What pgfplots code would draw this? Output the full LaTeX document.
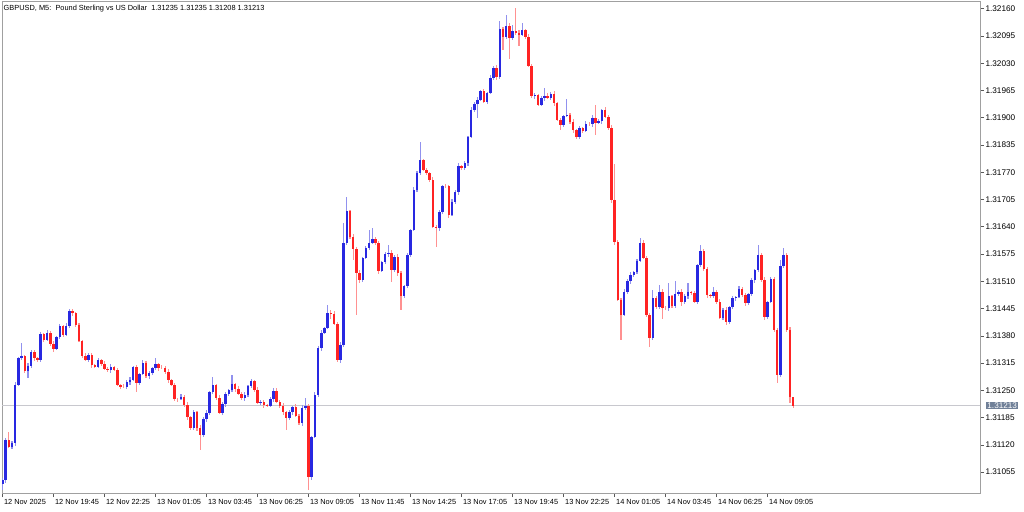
\documentclass[border=0pt]{standalone}
\usepackage{fontspec}
\setmainfont{Liberation Sans}
\usepackage{pgfplots}
\pgfplotsset{compat=1.18}
\usepackage{pgfplotstable}

\definecolor{bull}{RGB}{40,40,225}
\definecolor{bear}{RGB}{255,35,35}
\definecolor{bullwick}{RGB}{145,145,238}
\definecolor{bearwick}{RGB}{255,145,145}
\definecolor{framegray}{RGB}{160,160,160}
\definecolor{bidline}{RGB}{200,200,206}
\definecolor{pricetag}{RGB}{112,128,152}

% GBPUSD M5 candles (x = bar index, every second bar)
\pgfplotstableread{
i o h l c
0 1.31027 1.31041 1.31012 1.31036
2 1.31036 1.31135 1.31030 1.31132
4 1.31132 1.31150 1.31112 1.31115
6 1.31115 1.31128 1.31110 1.31124
8 1.31124 1.31269 1.31116 1.31263
10 1.31263 1.31329 1.31259 1.31327
12 1.31327 1.31363 1.31323 1.31332
14 1.31332 1.31335 1.31290 1.31296
16 1.31296 1.31315 1.31279 1.31308
18 1.31308 1.31345 1.31303 1.31341
20 1.31341 1.31347 1.31319 1.31327
22 1.31327 1.31329 1.31318 1.31322
24 1.31322 1.31389 1.31318 1.31384
26 1.31384 1.31387 1.31364 1.31370
28 1.31370 1.31394 1.31367 1.31387
30 1.31387 1.31391 1.31356 1.31361
32 1.31361 1.31367 1.31341 1.31349
34 1.31349 1.31379 1.31345 1.31377
36 1.31377 1.31408 1.31373 1.31403
38 1.31403 1.31406 1.31376 1.31382
40 1.31382 1.31410 1.31379 1.31403
42 1.31403 1.31443 1.31398 1.31439
44 1.31439 1.31445 1.31426 1.31434
46 1.31434 1.31436 1.31402 1.31406
48 1.31406 1.31411 1.31364 1.31368
50 1.31368 1.31371 1.31326 1.31332
52 1.31332 1.31339 1.31319 1.31322
54 1.31322 1.31338 1.31317 1.31334
56 1.31334 1.31340 1.31302 1.31310
58 1.31310 1.31312 1.31302 1.31306
60 1.31306 1.31327 1.31302 1.31322
62 1.31322 1.31325 1.31307 1.31313
64 1.31313 1.31320 1.31298 1.31301
66 1.31301 1.31305 1.31294 1.31299
68 1.31299 1.31312 1.31291 1.31306
70 1.31306 1.31308 1.31295 1.31299
72 1.31299 1.31304 1.31259 1.31263
74 1.31263 1.31266 1.31252 1.31258
76 1.31258 1.31265 1.31255 1.31258
78 1.31258 1.31274 1.31253 1.31270
80 1.31270 1.31281 1.31262 1.31275
82 1.31275 1.31308 1.31271 1.31306
84 1.31306 1.31311 1.31246 1.31268
86 1.31268 1.31292 1.31262 1.31289
88 1.31289 1.31322 1.31286 1.31315
90 1.31315 1.31319 1.31279 1.31284
92 1.31284 1.31297 1.31276 1.31291
94 1.31291 1.31305 1.31287 1.31303
96 1.31303 1.31327 1.31299 1.31313
98 1.31313 1.31316 1.31297 1.31303
100 1.31303 1.31310 1.31300 1.31303
102 1.31303 1.31307 1.31289 1.31294
104 1.31294 1.31300 1.31267 1.31275
106 1.31275 1.31277 1.31259 1.31263
108 1.31263 1.31268 1.31225 1.31229
110 1.31229 1.31232 1.31223 1.31229
112 1.31229 1.31241 1.31226 1.31234
114 1.31234 1.31238 1.31210 1.31215
116 1.31215 1.31221 1.31179 1.31187
118 1.31187 1.31189 1.31156 1.31160
120 1.31160 1.31203 1.31156 1.31198
122 1.31198 1.31201 1.31154 1.31160
124 1.31160 1.31167 1.31108 1.31144
126 1.31144 1.31186 1.31139 1.31182
128 1.31182 1.31202 1.31174 1.31196
130 1.31196 1.31248 1.31192 1.31246
132 1.31246 1.31282 1.31242 1.31263
134 1.31263 1.31266 1.31226 1.31232
136 1.31232 1.31239 1.31193 1.31196
138 1.31196 1.31221 1.31191 1.31217
140 1.31217 1.31247 1.31209 1.31241
142 1.31241 1.31253 1.31237 1.31251
144 1.31251 1.31287 1.31247 1.31265
146 1.31265 1.31268 1.31247 1.31253
148 1.31253 1.31260 1.31238 1.31241
150 1.31241 1.31245 1.31227 1.31232
152 1.31232 1.31245 1.31224 1.31239
154 1.31239 1.31262 1.31235 1.31260
156 1.31260 1.31277 1.31256 1.31272
158 1.31272 1.31275 1.31245 1.31251
160 1.31251 1.31258 1.31217 1.31220
162 1.31220 1.31226 1.31215 1.31222
164 1.31222 1.31228 1.31207 1.31215
166 1.31215 1.31217 1.31209 1.31213
168 1.31213 1.31234 1.31209 1.31229
170 1.31229 1.31255 1.31223 1.31248
172 1.31248 1.31255 1.31219 1.31222
174 1.31222 1.31226 1.31208 1.31213
176 1.31213 1.31219 1.31190 1.31198
178 1.31198 1.31200 1.31156 1.31184
180 1.31184 1.31203 1.31180 1.31198
182 1.31198 1.31213 1.31192 1.31210
184 1.31210 1.31217 1.31186 1.31189
186 1.31189 1.31193 1.31167 1.31172
188 1.31172 1.31214 1.31164 1.31208
190 1.31208 1.31232 1.31204 1.31213
192 1.31213 1.31218 1.31012 1.31043
194 1.31043 1.31142 1.31037 1.31139
196 1.31139 1.31246 1.31136 1.31239
198 1.31239 1.31355 1.31234 1.31351
200 1.31351 1.31393 1.31343 1.31387
202 1.31387 1.31401 1.31383 1.31399
204 1.31399 1.31454 1.31395 1.31434
206 1.31434 1.31441 1.31420 1.31432
208 1.31432 1.31439 1.31405 1.31408
210 1.31408 1.31412 1.31317 1.31322
212 1.31322 1.31364 1.31314 1.31358
214 1.31358 1.31650 1.31354 1.31601
216 1.31601 1.31711 1.31597 1.31678
218 1.31678 1.31681 1.31610 1.31616
220 1.31616 1.31623 1.31561 1.31587
222 1.31587 1.31591 1.31430 1.31530
224 1.31530 1.31536 1.31505 1.31513
226 1.31513 1.31568 1.31509 1.31566
228 1.31566 1.31595 1.31562 1.31590
230 1.31590 1.31632 1.31584 1.31601
232 1.31601 1.31637 1.31598 1.31611
234 1.31611 1.31615 1.31596 1.31601
236 1.31601 1.31607 1.31527 1.31535
238 1.31535 1.31558 1.31531 1.31556
240 1.31556 1.31580 1.31552 1.31575
242 1.31575 1.31597 1.31569 1.31578
244 1.31578 1.31585 1.31508 1.31537
246 1.31537 1.31572 1.31532 1.31568
248 1.31568 1.31574 1.31522 1.31530
250 1.31530 1.31534 1.31442 1.31475
252 1.31475 1.31501 1.31471 1.31499
254 1.31499 1.31578 1.31495 1.31573
256 1.31573 1.31635 1.31567 1.31632
258 1.31632 1.31735 1.31629 1.31728
260 1.31728 1.31772 1.31723 1.31768
262 1.31768 1.31842 1.31763 1.31799
264 1.31799 1.31801 1.31772 1.31776
266 1.31776 1.31781 1.31764 1.31768
268 1.31768 1.31771 1.31746 1.31752
270 1.31752 1.31759 1.31637 1.31640
272 1.31640 1.31644 1.31592 1.31637
274 1.31637 1.31681 1.31629 1.31675
276 1.31675 1.31739 1.31671 1.31737
278 1.31737 1.31742 1.31733 1.31737
280 1.31737 1.31740 1.31662 1.31668
282 1.31668 1.31706 1.31665 1.31699
284 1.31699 1.31727 1.31694 1.31723
286 1.31723 1.31791 1.31715 1.31785
288 1.31785 1.31787 1.31776 1.31780
290 1.31780 1.31797 1.31776 1.31792
292 1.31792 1.31857 1.31786 1.31854
294 1.31854 1.31926 1.31851 1.31919
296 1.31919 1.31937 1.31914 1.31933
298 1.31933 1.31949 1.31900 1.31943
300 1.31943 1.31966 1.31939 1.31964
302 1.31964 1.31969 1.31934 1.31938
304 1.31938 1.31962 1.31932 1.31959
306 1.31959 1.32002 1.31956 1.31995
308 1.31995 1.32023 1.31990 1.32019
310 1.32019 1.32025 1.31989 1.31997
312 1.31997 1.32130 1.31993 1.32112
314 1.32112 1.32117 1.32062 1.32093
316 1.32093 1.32145 1.32087 1.32119
318 1.32119 1.32126 1.32040 1.32090
320 1.32090 1.32120 1.32085 1.32107
322 1.32107 1.32162 1.32097 1.32102
324 1.32102 1.32110 1.32070 1.32098
326 1.32098 1.32126 1.32094 1.32109
328 1.32109 1.32112 1.32087 1.32093
330 1.32093 1.32100 1.32021 1.32024
332 1.32024 1.32028 1.31947 1.31952
334 1.31952 1.31960 1.31944 1.31954
336 1.31954 1.31956 1.31927 1.31931
338 1.31931 1.31952 1.31927 1.31947
340 1.31947 1.31970 1.31941 1.31952
342 1.31952 1.31959 1.31944 1.31947
344 1.31947 1.31961 1.31942 1.31957
346 1.31957 1.31963 1.31927 1.31935
348 1.31935 1.31937 1.31891 1.31895
350 1.31895 1.31900 1.31871 1.31883
352 1.31883 1.31907 1.31877 1.31904
354 1.31904 1.31945 1.31901 1.31907
356 1.31907 1.31911 1.31885 1.31890
358 1.31890 1.31896 1.31863 1.31871
360 1.31871 1.31873 1.31850 1.31854
362 1.31854 1.31881 1.31850 1.31876
364 1.31876 1.31879 1.31863 1.31869
366 1.31869 1.31892 1.31866 1.31885
368 1.31885 1.31889 1.31880 1.31885
370 1.31885 1.31906 1.31877 1.31900
372 1.31900 1.31930 1.31858 1.31888
374 1.31888 1.31897 1.31884 1.31892
376 1.31892 1.31922 1.31886 1.31919
378 1.31919 1.31926 1.31899 1.31902
380 1.31902 1.31906 1.31871 1.31876
382 1.31876 1.31882 1.31696 1.31704
384 1.31704 1.31790 1.31596 1.31604
386 1.31604 1.31609 1.31462 1.31466
388 1.31466 1.31470 1.31370 1.31430
390 1.31430 1.31492 1.31427 1.31485
392 1.31485 1.31515 1.31480 1.31511
394 1.31511 1.31531 1.31503 1.31525
396 1.31525 1.31534 1.31521 1.31532
398 1.31532 1.31564 1.31528 1.31559
400 1.31559 1.31612 1.31555 1.31601
402 1.31601 1.31608 1.31563 1.31566
404 1.31566 1.31570 1.31425 1.31430
406 1.31430 1.31434 1.31353 1.31375
408 1.31375 1.31489 1.31371 1.31470
410 1.31470 1.31475 1.31445 1.31449
412 1.31449 1.31501 1.31443 1.31485
414 1.31485 1.31492 1.31420 1.31446
416 1.31446 1.31450 1.31441 1.31446
418 1.31446 1.31506 1.31438 1.31475
420 1.31475 1.31477 1.31447 1.31451
422 1.31451 1.31510 1.31447 1.31480
424 1.31480 1.31488 1.31474 1.31485
426 1.31485 1.31492 1.31450 1.31461
428 1.31461 1.31479 1.31456 1.31475
430 1.31475 1.31505 1.31467 1.31485
432 1.31485 1.31487 1.31478 1.31482
434 1.31482 1.31487 1.31457 1.31461
436 1.31461 1.31552 1.31455 1.31549
438 1.31549 1.31597 1.31543 1.31582
440 1.31582 1.31586 1.31534 1.31539
442 1.31539 1.31545 1.31469 1.31477
444 1.31477 1.31479 1.31471 1.31475
446 1.31475 1.31497 1.31471 1.31485
448 1.31485 1.31488 1.31455 1.31461
450 1.31461 1.31468 1.31420 1.31423
452 1.31423 1.31446 1.31418 1.31442
454 1.31442 1.31448 1.31405 1.31413
456 1.31413 1.31451 1.31409 1.31449
458 1.31449 1.31475 1.31445 1.31470
460 1.31470 1.31476 1.31464 1.31473
462 1.31473 1.31499 1.31470 1.31492
464 1.31492 1.31496 1.31472 1.31477
466 1.31477 1.31483 1.31450 1.31458
468 1.31458 1.31482 1.31454 1.31480
470 1.31480 1.31518 1.31476 1.31513
472 1.31513 1.31540 1.31507 1.31537
474 1.31537 1.31597 1.31533 1.31573
476 1.31573 1.31577 1.31508 1.31513
478 1.31513 1.31519 1.31417 1.31425
480 1.31425 1.31463 1.31421 1.31461
482 1.31461 1.31521 1.31457 1.31516
484 1.31516 1.31519 1.31388 1.31394
486 1.31394 1.31398 1.31268 1.31287
488 1.31287 1.31560 1.31282 1.31547
490 1.31547 1.31590 1.31542 1.31573
492 1.31573 1.31578 1.31390 1.31394
494 1.31394 1.31400 1.31220 1.31235
496 1.31235 1.31235 1.31208 1.31213
}\candles

\pgfplotsset{
  wick/.style={draw=none, mark=none,
    error bars/y dir=both, error bars/y explicit, error bars/error mark=none,
    error bars/error bar style={draw=#1, line width=1.1pt}},
  body/.style={draw=none, mark=none,
    error bars/y explicit, error bars/error mark=none,
    error bars/error bar style={draw=#1, line width=2.5pt}},
}

\begin{document}
\begin{tikzpicture}
\path[use as bounding box] (-2pt,-18pt) rectangle (1022pt,493pt);
\begin{axis}[
  at={(0,0)}, anchor=south west,
  scale only axis, width=978pt, height=491pt,
  xmin=-0.3, xmax=613.2,
  ymin=1.31005, ymax=1.32176,
  clip mode=individual,
  axis line style={draw=framegray, line width=1pt},
  tick align=outside, major tick length=4pt,
  tick style={draw=black!65, line width=0.5pt},
  xtick={0,32,...,480}, xtick pos=bottom,
  xticklabels={12 Nov 2025,12 Nov 19:45,12 Nov 22:25,13 Nov 01:05,13 Nov 03:45,13 Nov 06:25,13 Nov 09:05,13 Nov 11:45,13 Nov 14:25,13 Nov 17:05,13 Nov 19:45,13 Nov 22:25,14 Nov 01:05,14 Nov 03:45,14 Nov 06:25,14 Nov 09:05},
  xticklabel style={anchor=north west, xshift=-2pt, yshift=1pt, font=\fontsize{7.4}{9}\selectfont},
  ytick={1.31055,1.31120,1.31185,1.31250,1.31315,1.31380,1.31445,1.31510,1.31575,1.31640,1.31705,1.31770,1.31835,1.31900,1.31965,1.32030,1.32095,1.32160},
  yticklabels={1.31055,1.31120,1.31185,1.31250,1.31315,1.31380,1.31445,1.31510,1.31575,1.31640,1.31705,1.31770,1.31835,1.31900,1.31965,1.32030,1.32095,1.32160},
  ytick pos=right, yticklabel pos=right,
  yticklabel style={xshift=-2pt, font=\fontsize{8.2}{9}\selectfont},
  every tick label/.append style={text=black},
  /pgf/number format/assume math mode=true,
]
% bid line
\addplot[draw=bidline, line width=0.8pt] coordinates {(-1,1.31213) (620,1.31213)};

% wicks
\addplot[wick=bullwick, restrict expr to domain={\thisrow{c}-\thisrow{o}}{0:1}]
  table[x=i, y=c, y error plus expr=\thisrow{h}-\thisrow{c}, y error minus expr=\thisrow{c}-\thisrow{l}] {\candles};
\addplot[wick=bearwick, restrict expr to domain={\thisrow{c}-\thisrow{o}}{-1:0}]
  table[x=i, y=c, y error plus expr=\thisrow{h}-\thisrow{c}, y error minus expr=\thisrow{c}-\thisrow{l}] {\candles};

% bodies
\addplot[body=bull, error bars/y dir=minus, restrict expr to domain={\thisrow{c}-\thisrow{o}}{0:1}]
  table[x=i, y=c, y error expr=\thisrow{c}-\thisrow{o}] {\candles};
\addplot[body=bear, error bars/y dir=plus, restrict expr to domain={\thisrow{c}-\thisrow{o}}{-1:0}]
  table[x=i, y=c, y error expr=\thisrow{o}-\thisrow{c}] {\candles};

\node[anchor=north west, inner sep=0pt, xshift=1.5pt, yshift=-3pt, font=\fontsize{7.4}{9}\selectfont]
  at (rel axis cs:0,1) {GBPUSD, M5:\ \ Pound Sterling vs US Dollar\ \ 1.31235 1.31235 1.31208 1.31213};
\node[fill=pricetag, text=white, anchor=west, inner xsep=1.2pt, inner ysep=0.8pt, xshift=6pt, font=\fontsize{8.2}{9}\selectfont]
  at ({rel axis cs:1,0} |- {axis cs:0,1.31213}) {1.31213};
\end{axis}
\end{tikzpicture}
\end{document}
